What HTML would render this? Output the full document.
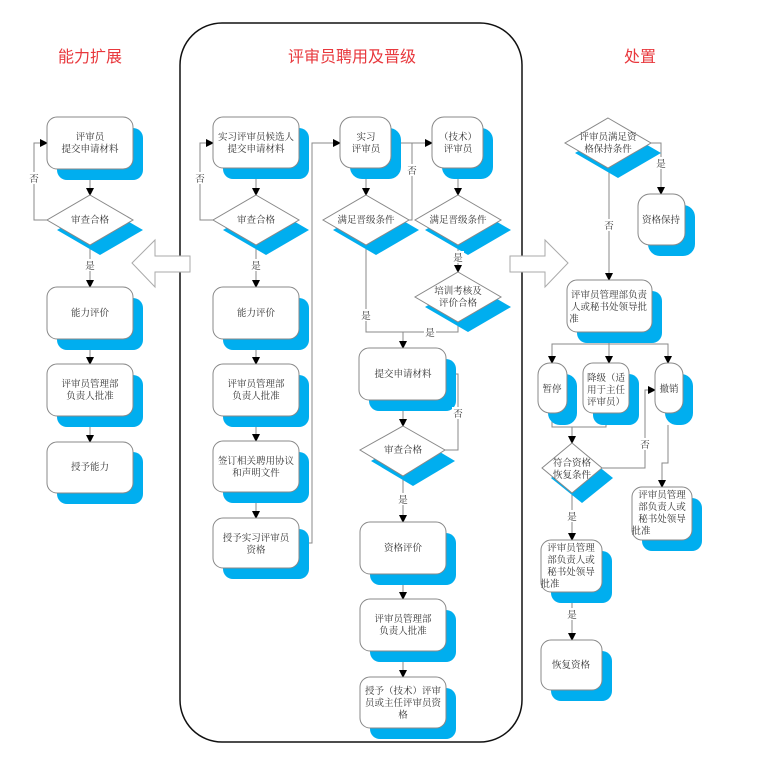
<!DOCTYPE html>
<html><head><meta charset="utf-8"><style>
html,body{margin:0;padding:0;background:#fff;}
svg{display:block;}
text{font-family:"Liberation Serif","Noto Serif CJK SC","Noto Sans CJK SC",serif;font-size:9.5px;fill:#333;text-anchor:middle;}
.t{font-size:16px;fill:#e8383d;font-family:"Liberation Sans","Noto Sans CJK SC",sans-serif;}
.l{stroke:#888;stroke-width:1;fill:none;}
.sh{fill:#00aeef;}
.bx{fill:#fff;stroke:#888;stroke-width:1;}
</style></head><body>
<svg width="769" height="771" viewBox="0 0 769 771" xmlns="http://www.w3.org/2000/svg">
<defs>
<marker id="a" markerWidth="8" markerHeight="8" refX="7" refY="4" orient="auto" markerUnits="userSpaceOnUse">
<path d="M0,0 L8,4 L0,8 Z" fill="#000"/></marker>
</defs>

<text class="t" x="90" y="62">能力扩展</text>
<text class="t" x="352" y="62">评审员聘用及晋级</text>
<text class="t" x="640" y="62">处置</text>

<rect x="180" y="23" width="342" height="719" rx="42" fill="none" stroke="#111" stroke-width="1.5"/>

<!-- hollow arrows -->
<path d="M132,263 L155,240 L155,256 L190,256 L190,272 L155,272 L155,287 Z" fill="#fff" stroke="#aaa"/>
<path d="M568,263 L545,240 L545,256 L510,256 L510,272 L545,272 L545,287 Z" fill="#fff" stroke="#aaa"/>

<!-- connectors -->
<g class="l" marker-end="url(#a)">
<!-- left column -->
<path d="M90,169 V195"/>
<path d="M47,220 H34 V143 H47"/>
<path d="M90,245 V287"/>
<path d="M90,339 V364"/>
<path d="M90,416 V442"/>
<!-- middle col1 -->
<path d="M256,168 V195"/>
<path d="M213,220 H200 V143 H213"/>
<path d="M256,245 V287"/>
<path d="M256,339 V364"/>
<path d="M256,416 V441"/>
<path d="M256,492 V518"/>
<path d="M309,543 H312 V143 H340"/>
<!-- col2 -->
<path d="M366,168 V195"/>
<path d="M458,168 V195"/>
<path d="M409,220 H412 V143 H391"/>
<path d="M412,143 H432"/>
<path d="M458,245 V272"/>
<path d="M403,332 V348"/>
<path d="M403,400 V426"/>
<path d="M445,450 H458 V374 H446"/>
<path d="M403,476 V522"/>
<path d="M403,574 V599"/>
<path d="M403,651 V677"/>
<!-- right -->
<path d="M651,143 H661 V194"/>
<path d="M609,168 V280"/>
<path d="M609,344 H552 V363"/>
<path d="M609,344 V363"/>
<path d="M609,344 H668 V363"/>
<path d="M572,427 V443"/>
<path d="M602,468 H645 V390 H655"/>
<path d="M668,425 V463 H662 V487"/>
<path d="M572,493 V540"/>
<path d="M572,592 V640"/>
</g>
<g class="l">
<path d="M609,332 V344"/>
<path d="M366,245 V332 H458 V322"/>
<path d="M552,413 V427 H606 V423"/>
</g>

<!-- shapes helper: shadow then box -->
<g>
<!-- left -->
<rect class="sh" x="57" y="128" width="86" height="52" rx="10"/><rect class="bx" x="47" y="117" width="86" height="52" rx="10"/>
<rect class="sh" x="57" y="298" width="86" height="52" rx="10"/><rect class="bx" x="47" y="287" width="86" height="52" rx="10"/>
<rect class="sh" x="57" y="375" width="86" height="52" rx="10"/><rect class="bx" x="47" y="364" width="86" height="52" rx="10"/>
<rect class="sh" x="57" y="452" width="86" height="52" rx="10"/><rect class="bx" x="47" y="442" width="86" height="51" rx="10"/>
<polygon class="sh" points="100,205 143,230 100,255 57,230"/><polygon class="bx" points="90,195 133,220 90,245 47,220"/>

<!-- middle col1 -->
<rect class="sh" x="223" y="128" width="86" height="51" rx="10"/><rect class="bx" x="213" y="117" width="86" height="51" rx="10"/>
<rect class="sh" x="223" y="298" width="86" height="52" rx="10"/><rect class="bx" x="213" y="287" width="86" height="52" rx="10"/>
<rect class="sh" x="223" y="375" width="86" height="52" rx="10"/><rect class="bx" x="213" y="364" width="86" height="52" rx="10"/>
<rect class="sh" x="223" y="452" width="86" height="51" rx="10"/><rect class="bx" x="213" y="441" width="86" height="51" rx="10"/>
<rect class="sh" x="223" y="529" width="86" height="50" rx="10"/><rect class="bx" x="213" y="518" width="86" height="50" rx="10"/>
<polygon class="sh" points="266,205 309,230 266,255 223,230"/><polygon class="bx" points="256,195 299,220 256,245 213,220"/>

<!-- col2 -->
<rect class="sh" x="350" y="128" width="51" height="51" rx="12"/><rect class="bx" x="340" y="117" width="51" height="51" rx="12"/>
<rect class="sh" x="442" y="128" width="51" height="51" rx="12"/><rect class="bx" x="432" y="117" width="51" height="51" rx="12"/>
<polygon class="sh" points="376,205 419,230 376,255 333,230"/><polygon class="bx" points="366,195 409,220 366,245 323,220"/>
<polygon class="sh" points="468,205 511,230 468,255 425,230"/><polygon class="bx" points="458,195 501,220 458,245 415,220"/>
<polygon class="sh" points="468,282 511,307 468,332 425,307"/><polygon class="bx" points="458,272 501,297 458,322 415,297"/>
<rect class="sh" x="369" y="359" width="87" height="52" rx="10"/><rect class="bx" x="359" y="348" width="87" height="52" rx="10"/>
<polygon class="sh" points="413,436 455,461 413,486 371,461"/><polygon class="bx" points="403,426 445,450 403,476 360,450"/>
<rect class="sh" x="370" y="533" width="86" height="52" rx="10"/><rect class="bx" x="360" y="522" width="86" height="52" rx="10"/>
<rect class="sh" x="370" y="610" width="86" height="52" rx="10"/><rect class="bx" x="360" y="599" width="86" height="52" rx="10"/>
<rect class="sh" x="370" y="688" width="86" height="51" rx="10"/><rect class="bx" x="360" y="677" width="86" height="51" rx="10"/>

<!-- right -->
<polygon class="sh" points="618,128 661,153 618,178 575,153"/><polygon class="bx" points="608,118 651,143 608,168 565,143"/>
<rect class="sh" x="648" y="205" width="47" height="51" rx="12"/><rect class="bx" x="638" y="194" width="47" height="51" rx="12"/>
<rect class="sh" x="577" y="291" width="85" height="52" rx="10"/><rect class="bx" x="567" y="280" width="85" height="52" rx="10"/>
<rect class="sh" x="548" y="374" width="29" height="51" rx="12"/><rect class="bx" x="538" y="363" width="29" height="50" rx="12"/>
<rect class="sh" x="593" y="374" width="46" height="51" rx="10"/><rect class="bx" x="583" y="363" width="46" height="50" rx="10"/>
<rect class="sh" x="665" y="374" width="28" height="51" rx="12"/><rect class="bx" x="655" y="363" width="28" height="50" rx="12"/>
<polygon class="sh" points="582,453 613,478 582,503 551,478"/><polygon class="bx" points="572,443 602,468 572,493 542,468"/>
<rect class="sh" x="642" y="498" width="60" height="53" rx="10"/><rect class="bx" x="632" y="487" width="60" height="53" rx="10"/>
<rect class="sh" x="551" y="551" width="61" height="52" rx="10"/><rect class="bx" x="541" y="540" width="61" height="52" rx="10"/>
<rect class="sh" x="551" y="651" width="61" height="50" rx="10"/><rect class="bx" x="541" y="640" width="61" height="50" rx="10"/>
</g>

<!-- labels on lines -->
<g>
<rect x="28" y="172" width="12" height="12" fill="#fff"/><text x="34" y="182">否</text>
<rect x="84" y="259" width="12" height="12" fill="#fff"/><text x="90" y="269">是</text>
<rect x="194" y="172" width="12" height="12" fill="#fff"/><text x="200" y="182">否</text>
<rect x="250" y="259" width="12" height="12" fill="#fff"/><text x="256" y="269">是</text>
<rect x="406" y="164" width="12" height="12" fill="#fff"/><text x="412" y="174">否</text>
<rect x="452" y="251" width="12" height="12" fill="#fff"/><text x="458" y="261">是</text>
<rect x="360" y="309" width="12" height="12" fill="#fff"/><text x="366" y="319">是</text>
<rect x="424" y="326" width="12" height="12" fill="#fff"/><text x="430" y="336">是</text>
<rect x="452" y="407" width="12" height="12" fill="#fff"/><text x="458" y="417">否</text>
<rect x="397" y="493" width="12" height="12" fill="#fff"/><text x="403" y="503">是</text>
<rect x="655" y="157" width="12" height="12" fill="#fff"/><text x="661" y="167">是</text>
<rect x="603" y="219" width="12" height="12" fill="#fff"/><text x="609" y="229">否</text>
<rect x="639" y="438" width="12" height="12" fill="#fff"/><text x="645" y="448">否</text>
<rect x="566" y="510" width="12" height="12" fill="#fff"/><text x="572" y="520">是</text>
<rect x="566" y="608" width="12" height="12" fill="#fff"/><text x="572" y="618">是</text>
</g>

<!-- node text -->
<g>
<text x="90" y="140">评审员</text><text x="90" y="152">提交申请材料</text>
<text x="90" y="223">审查合格</text>
<text x="90" y="316">能力评价</text>
<text x="90" y="387">评审员管理部</text><text x="90" y="399">负责人批准</text>
<text x="90" y="470">授予能力</text>

<text x="256" y="140">实习评审员候选人</text><text x="256" y="152">提交申请材料</text>
<text x="256" y="223">审查合格</text>
<text x="256" y="316">能力评价</text>
<text x="256" y="387">评审员管理部</text><text x="256" y="399">负责人批准</text>
<text x="256" y="464">签订相关聘用协议</text><text x="256" y="476">和声明文件</text>
<text x="256" y="541">授予实习评审员</text><text x="256" y="553">资格</text>

<text x="366" y="140">实习</text><text x="366" y="152">评审员</text>
<text x="458" y="140">（技术）</text><text x="458" y="152">评审员</text>
<text x="366" y="223">满足晋级条件</text>
<text x="458" y="223">满足晋级条件</text>
<text x="458" y="294">培训考核及</text><text x="458" y="306">评价合格</text>
<text x="403" y="377">提交申请材料</text>
<text x="403" y="453">审查合格</text>
<text x="403" y="551">资格评价</text>
<text x="403" y="622">评审员管理部</text><text x="403" y="634">负责人批准</text>
<text x="403" y="694">授予（技术）评审</text><text x="403" y="706">员或主任评审员资</text><text x="403" y="718">格</text>

<text x="608" y="140">评审员满足资</text><text x="608" y="152">格保持条件</text>
<text x="661" y="223">资格保持</text>
<text x="609" y="298">评审员管理部负责</text><text x="609" y="310">人或秘书处领导批</text><text x="574" y="322">准</text>
<text x="552" y="392">暂停</text>
<text x="606" y="381">降级（适</text><text x="606" y="393">用于主任</text><text x="606" y="405">评审员）</text>
<text x="669" y="392">撤销</text>
<text x="572" y="466">符合资格</text><text x="572" y="478">恢复条件</text>
<text x="662" y="498">评审员管理</text><text x="662" y="510">部负责人或</text><text x="662" y="522">秘书处领导</text><text x="641" y="534">批准</text>
<text x="571" y="551">评审员管理</text><text x="571" y="563">部负责人或</text><text x="571" y="575">秘书处领导</text><text x="550" y="587">批准</text>
<text x="571" y="668">恢复资格</text>
</g>
</svg>
</body></html>
